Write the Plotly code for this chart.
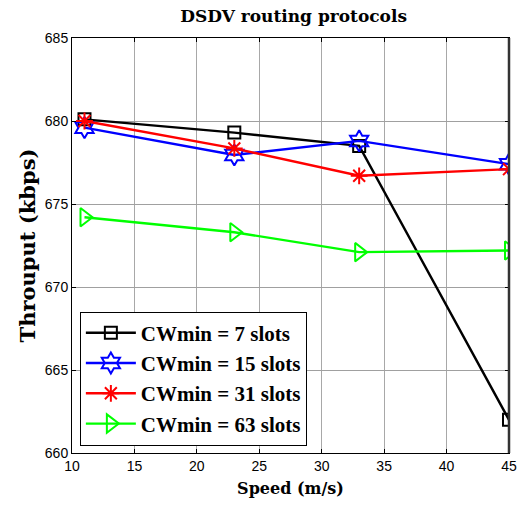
import plotly.graph_objects as go

speed = [11, 23, 33, 45]
cw7 = [680.1, 679.3, 678.5, 662.0]
cw15 = [679.6, 677.95, 678.8, 677.4]
cw31 = [680.0, 678.35, 676.7, 677.1]
cw63 = [674.2, 673.3, 672.1, 672.2]
names = ["CWmin = 7 slots", "CWmin = 15 slots", "CWmin = 31 slots", "CWmin = 63 slots"]
colors = ["black", "blue", "red", "#00ff00"]
symbols = ["square-open", "hexagram-open", "asterisk-open", "triangle-right-open"]
sizes = [12, 16, 14, 16]

fig = go.Figure()
for ys, n, c, s, sz in zip([cw7, cw15, cw31, cw63], names, colors, symbols, sizes):
    fig.add_trace(go.Scatter(
        x=speed, y=ys, name="<b>" + n + "</b>", mode="lines+markers",
        line=dict(color=c, width=2.4),
        marker=dict(symbol=s, size=sz, color=c, line=dict(color=c, width=2)),
    ))

serif = "DejaVu Serif"
fig.add_shape(type="line", xref="paper", yref="paper", x0=1, x1=1, y0=0, y1=1,
              line=dict(color="#333333", width=2.5), layer="above")
fig.update_layout(
    width=529, height=512,
    margin=dict(l=72, r=12, t=38, b=59),
    plot_bgcolor="white", paper_bgcolor="white",
    title=dict(text="<b>DSDV routing protocols</b>", x=0.555, xanchor="center", y=0.98, yanchor="top",
               font=dict(family=serif, size=17, color="black")),
    xaxis=dict(range=[10, 45], tickvals=[10, 15, 20, 25, 30, 35, 40, 45],
               showgrid=True, gridcolor="#a8a8a8", gridwidth=1,
               ticks="inside", ticklen=4, tickcolor="black",
               showline=True, linecolor="black", linewidth=1, mirror="allticks",
               zeroline=False,
               tickfont=dict(family="Liberation Sans", size=14, color="black"),
               title=dict(text="<b>Speed (m/s)</b>", font=dict(family=serif, size=16, color="black"), standoff=10)),
    yaxis=dict(range=[660, 685], tickvals=[660, 665, 670, 675, 680, 685],
               showgrid=True, gridcolor="#a0a0a0", gridwidth=1,
               ticks="inside", ticklen=4, tickcolor="black",
               showline=True, linecolor="black", linewidth=1, mirror="allticks",
               zeroline=False,
               tickfont=dict(family="Liberation Sans", size=14, color="black"),
               title=dict(text="<b>Throuput (kbps)</b>", font=dict(family=serif, size=21, color="black"), standoff=3)),
    legend=dict(x=0.018, y=0.018, xanchor="left", yanchor="bottom",
                bgcolor="white", bordercolor="black", borderwidth=1,
                font=dict(family="Liberation Serif", size=21, color="black"),
                itemwidth=50, tracegroupgap=0),
)
fig.write_html("out.html")
